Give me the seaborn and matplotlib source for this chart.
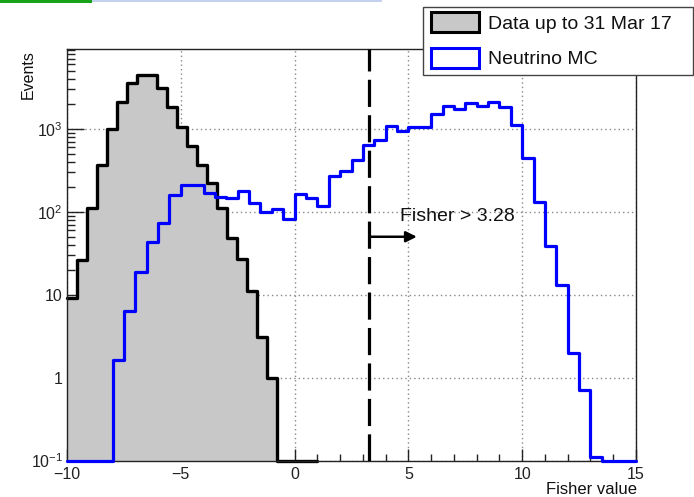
import numpy as np
import matplotlib
matplotlib.use("Agg")
import matplotlib.pyplot as plt
from matplotlib.patches import Patch, Rectangle
from matplotlib.ticker import LogLocator, FixedLocator, FixedFormatter, MultipleLocator, NullFormatter
import seaborn as sns

# Data: 25 bins of width 0.44 on [-10, 1]
data_edges = [round(v, 2) for v in np.linspace(-10, 1, 26)]
data_counts = [9.2, 26, 111, 371, 986, 2130, 3550, 4490, 4490, 3100,
               1840, 1050, 630, 364, 225, 111, 48, 27, 11, 3.1,
               1.0, 0, 0, 0, 0]

# Neutrino MC: 50 bins of width 0.5 on [-10, 15]
mc_edges = [round(v, 2) for v in np.linspace(-10, 15, 51)]
mc_counts = [0, 0, 0, 0, 1.65, 6.4, 19, 43, 74, 161,
             212, 212, 169, 152, 148, 176, 129, 100, 108, 83,
             165, 148, 118, 268, 314, 419, 637, 726, 1080, 940,
             1050, 1050, 1500, 1890, 1720, 2040, 1890, 2110, 1860, 1100,
             447, 133, 38.7, 13, 2.0, 0.70, 0.11, 0, 0, 0]

series_labels = ["Data up to 31 Mar 17", "Neutrino MC"]
fisher_cut = 3.28
cut_label = "Fisher > 3.28"
arrow_end = 5.37
arrow_level = 50
label_pos = (4.61, 88)

xticks = [-10, -5, 0, 5, 10, 15]
yticks = [0.1, 1, 10, 100, 1000]
ytick_labels = [r"$10^{-1}$", "1", "10", r"$10^{2}$", r"$10^{3}$"]
y_min, y_max = 0.1, 9200

sns.set_style("white")
plt.rcParams["font.family"] = ["Liberation Sans", "DejaVu Sans"]
plt.rcParams["mathtext.fontset"] = "custom"
plt.rcParams["mathtext.rm"] = "Liberation Sans"
plt.rcParams["mathtext.it"] = "Liberation Sans:italic"
plt.rcParams["mathtext.bf"] = "Liberation Sans:bold"

W, H = 694, 497
fig = plt.figure(figsize=(W / 100, H / 100), dpi=100)
ax = fig.add_axes([67 / W, 1 - 460.5 / H, (636 - 67) / W, (460.5 - 49) / H])

fill_gray = "#c8c8c8"
mc_blue = "#0000ff"

data_centers = [0.5 * (a + b) for a, b in zip(data_edges[:-1], data_edges[1:])]
mc_centers = [0.5 * (a + b) for a, b in zip(mc_edges[:-1], mc_edges[1:])]

# data: grey fill, then its outline with empty bins resting on the axis floor
sns.histplot(x=data_centers, weights=data_counts, bins=data_edges,
             element="step", fill=True, color=fill_gray, alpha=1.0,
             edgecolor="none", linewidth=0, ax=ax, zorder=2)
data_shown = list(np.maximum(data_counts, y_min))
sns.histplot(x=data_centers, weights=data_shown, bins=data_edges,
             element="step", fill=False, color="black",
             linewidth=2.4, ax=ax, zorder=2.5)
ax.lines[-1].set_clip_on(False)

# MC outline, empty bins on the axis floor
mc_shown = list(np.maximum(mc_counts, y_min))
sns.histplot(x=mc_centers, weights=mc_shown, bins=mc_edges,
             element="step", fill=False, color=mc_blue,
             linewidth=2.3, ax=ax, zorder=3)
ax.lines[-1].set_clip_on(False)

ax.set_yscale("log")
ax.set_xlim(-10, 15)
ax.set_ylim(y_min, y_max)
ax.set_xlabel("")
ax.set_ylabel("")

# cut line, arrow and label
ax.axvline(fisher_cut, color="black", lw=2.3, dashes=(8.5, 2.6), zorder=4)
ax.annotate("", xy=(arrow_end, arrow_level), xytext=(fisher_cut, arrow_level),
            arrowprops=dict(arrowstyle="-|>", color="black", lw=1.8,
                            mutation_scale=16, shrinkA=0, shrinkB=0),
            zorder=5)
ax.text(label_pos[0], label_pos[1], cut_label, fontsize=14,
        ha="left", va="center", color="#111111", zorder=5)

# axes styling
ax.xaxis.set_major_locator(FixedLocator(xticks))
ax.xaxis.set_minor_locator(MultipleLocator(1))
ax.yaxis.set_major_locator(FixedLocator(yticks))
ax.yaxis.set_major_formatter(FixedFormatter(ytick_labels))
ax.yaxis.set_minor_locator(LogLocator(base=10, subs=np.arange(2, 10)))
ax.yaxis.set_minor_formatter(NullFormatter())
ax.tick_params(axis="both", which="both", direction="in", colors="#222222",
               bottom=True, left=True, top=False, right=False, width=1.0)
ax.tick_params(axis="x", which="major", length=8.5, pad=5, labelsize=11.5)
ax.tick_params(axis="x", which="minor", length=5)
ax.tick_params(axis="y", which="major", length=12, pad=3, labelsize=11.5)
ax.tick_params(axis="y", which="minor", length=5.5)
ax.grid(True, which="major", color="#888888", lw=1.0, dashes=(1, 2.2))
ax.set_axisbelow(True)
for side in ["left", "bottom", "top", "right"]:
    ax.spines[side].set_color("#222222")
    ax.spines[side].set_linewidth(1.0)
    ax.spines[side].set_visible(True)

fig.text(28 / W, 1 - 50 / H, "Events", rotation=90, ha="center", va="top",
         fontsize=11.5, color="#111111")
fig.text(637 / W, 1 - 496.5 / H, "Fisher value", ha="right", va="bottom",
         fontsize=12, color="#111111")

# legend box
fig.add_artist(Rectangle((422.7 / W, 1 - 75 / H), 270 / W, 67.7 / H,
                         transform=fig.transFigure, facecolor="white",
                         edgecolor="#444444", lw=1.0, zorder=6))
handles = [Patch(facecolor=fill_gray, edgecolor="black", lw=2.2),
           Patch(facecolor="white", edgecolor=mc_blue, lw=2.2)]
leg = fig.legend(handles, series_labels, loc="upper left",
                 bbox_to_anchor=(431 / W, 1 - 12.5 / H), frameon=False,
                 fontsize=14, handlelength=2.45, handleheight=1.2,
                 handletextpad=0.5, labelspacing=0.75, borderpad=0,
                 borderaxespad=0)
leg.set_zorder(7)
for t in leg.get_texts():
    t.set_color("#111111")

# thin banner strip along the top edge
fig.add_artist(Rectangle((0, 1 - 3 / H), 92 / W, 3 / H, transform=fig.transFigure,
                         facecolor="#17a317", edgecolor="none", zorder=8))
fig.add_artist(Rectangle((92 / W, 1 - 2 / H), 290 / W, 2 / H, transform=fig.transFigure,
                         facecolor="#c3d0ee", edgecolor="none", zorder=8))

fig.savefig("out.png", dpi=100)
